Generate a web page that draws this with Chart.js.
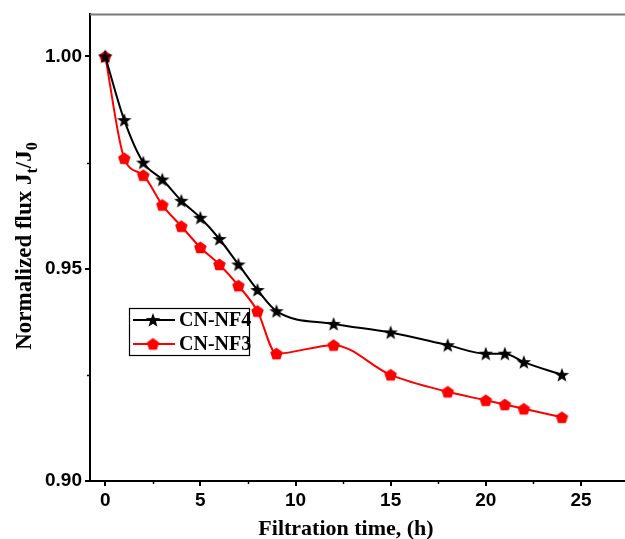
<!DOCTYPE html>
<html>
<head>
<meta charset="utf-8">
<script src="https://cdn.jsdelivr.net/npm/chart.js@4/dist/chart.umd.min.js"></script>
<style>html,body{margin:0;padding:0;background:#fff;}canvas{display:block;}</style>
</head>
<body>
<canvas id="c" width="625" height="539"></canvas>
<script>
const times = [0,1,2,3,4,5,6,7,8,9,12,15,18,20,21,22,24];
const nf4 = [1.000,0.985,0.975,0.971,0.966,0.962,0.957,0.951,0.945,0.940,0.937,0.935,0.932,0.930,0.930,0.928,0.925];
const nf3 = [1.000,0.976,0.972,0.965,0.960,0.955,0.951,0.946,0.940,0.930,0.932,0.925,0.921,0.919,0.918,0.917,0.915];
const seriesNames = ['CN-NF4','CN-NF3'];
const xTicks = [0,5,10,15,20,25];
const xMinorTicks = [2.5,7.5,12.5,17.5,22.5];
const yTicks = [0.90,0.95,1.00];
const yMinorTicks = [0.925,0.975];

function makeStar(color){
  const c=document.createElement('canvas');c.width=16;c.height=16;
  const g=c.getContext('2d');g.fillStyle=color;g.beginPath();
  for(let i=0;i<10;i++){const r=i%2?3.1:7.6;const a=-Math.PI/2+i*Math.PI/5;
    const x=8+r*Math.cos(a),y=8.6+r*Math.sin(a);i?g.lineTo(x,y):g.moveTo(x,y);}
  g.closePath();g.fill();return c;
}
function makePent(color){
  const c=document.createElement('canvas');c.width=15;c.height=15;
  const g=c.getContext('2d');g.fillStyle=color;g.beginPath();
  for(let i=0;i<5;i++){const a=-Math.PI/2+i*2*Math.PI/5;
    const x=7.5+6.6*Math.cos(a),y=8+6.6*Math.sin(a);i?g.lineTo(x,y):g.moveTo(x,y);}
  g.closePath();g.fill();return c;
}
const starImg=makeStar('#000000');
const pentImg=makePent('#ff0000');

const serifFam='"Liberation Serif", "Times New Roman", serif';

const decor={
  id:'decor',
  afterDraw(chart){
    const ctx=chart.ctx, a=chart.chartArea, xs=chart.scales.x, ys=chart.scales.y;
    const W=chart.width;
    ctx.save();
    ctx.strokeStyle='#7a7a7a';ctx.lineWidth=2;
    ctx.beginPath();ctx.moveTo(a.left,a.top);ctx.lineTo(W,a.top);ctx.stroke();
    ctx.strokeStyle='#000';ctx.lineWidth=2;
    ctx.beginPath();ctx.moveTo(a.right-2,a.bottom);ctx.lineTo(W,a.bottom);ctx.stroke();
    ctx.lineWidth=1.5;
    xMinorTicks.forEach(v=>{const px=Math.round(xs.getPixelForValue(v))+0.5;
      ctx.beginPath();ctx.moveTo(px,a.bottom);ctx.lineTo(px,a.bottom+3);ctx.stroke();});
    yMinorTicks.forEach(v=>{const py=Math.round(ys.getPixelForValue(v))+0.5;
      ctx.beginPath();ctx.moveTo(a.left,py);ctx.lineTo(a.left-3,py);ctx.stroke();});
    ctx.fillStyle='#000';ctx.font='bold 22px '+serifFam;ctx.textAlign='center';ctx.textBaseline='alphabetic';
    ctx.fillText('Filtration time, (h)',346,535);
    ctx.translate(31,246);ctx.rotate(-Math.PI/2);
    const main='bold 23px '+serifFam, sub='bold 16px '+serifFam;
    const parts=[['Normalized flux J',0],['t',1],['/J',0],['0',1]];
    let w=0;parts.forEach(p=>{ctx.font=p[1]?sub:main;w+=ctx.measureText(p[0]).width;});
    let x=-w/2;ctx.textAlign='left';
    parts.forEach(p=>{ctx.font=p[1]?sub:main;ctx.fillText(p[0],x,p[1]?6:0);x+=ctx.measureText(p[0]).width;});
    ctx.restore();
    ctx.save();
    ctx.strokeStyle='#000';ctx.lineWidth=1.2;ctx.strokeRect(129.5,308.5,120,47);
    const ds=chart.data.datasets;
    [320,344].forEach((yy,i)=>{
      ctx.strokeStyle=ds[i].borderColor;ctx.lineWidth=2;
      ctx.beginPath();ctx.moveTo(133,yy);ctx.lineTo(175,yy);ctx.stroke();
      const img=ds[i].pointStyle;
      ctx.drawImage(img,153-img.width/2,yy-img.height/2);
      ctx.fillStyle='#000';ctx.font='bold 20px '+serifFam;ctx.textAlign='left';ctx.textBaseline='middle';
      ctx.fillText(seriesNames[i],179,yy+1);
    });
    ctx.restore();
  }
};

const tickFont={family:'"Liberation Sans", Arial, sans-serif',size:19,weight:'bold'};

new Chart(document.getElementById('c'),{
  type:'scatter',
  data:{datasets:[
    {label:seriesNames[0],data:times.map((t,i)=>({x:t,y:nf4[i]})),showLine:true,borderColor:'#000000',backgroundColor:'#000000',borderWidth:2,pointStyle:starImg,cubicInterpolationMode:'monotone'},
    {label:seriesNames[1],data:times.map((t,i)=>({x:t,y:nf3[i]})),showLine:true,borderColor:'#ff0000',backgroundColor:'#ff0000',borderWidth:2,pointStyle:pentImg,cubicInterpolationMode:'monotone'}
  ]},
  options:{
    responsive:false,animation:false,devicePixelRatio:1,
    layout:{padding:{top:13,right:0,left:0,bottom:0}},
    plugins:{legend:{display:false},tooltip:{enabled:false}},
    scales:{
      x:{type:'linear',min:-0.8,max:27.0,
        afterBuildTicks:s=>{s.ticks=xTicks.map(v=>({value:v}));},
        afterFit:s=>{s.height=58;},
        ticks:{font:tickFont,color:'#000',padding:3,maxRotation:0,callback:v=>String(v)},
        grid:{drawOnChartArea:false,drawTicks:true,tickLength:5,color:'#000',lineWidth:2},
        border:{display:true,color:'#000',width:2}},
      y:{type:'linear',min:0.9,max:1.0099,
        afterBuildTicks:s=>{s.ticks=yTicks.map(v=>({value:v}));},
        afterFit:s=>{s.width=90;},
        ticks:{font:tickFont,color:'#000',padding:3,callback:v=>Number(v).toFixed(2)},
        grid:{drawOnChartArea:false,drawTicks:true,tickLength:5,color:'#000',lineWidth:2},
        border:{display:true,color:'#000',width:2}}
    }
  },
  plugins:[decor]
});
</script>
</body>
</html>
